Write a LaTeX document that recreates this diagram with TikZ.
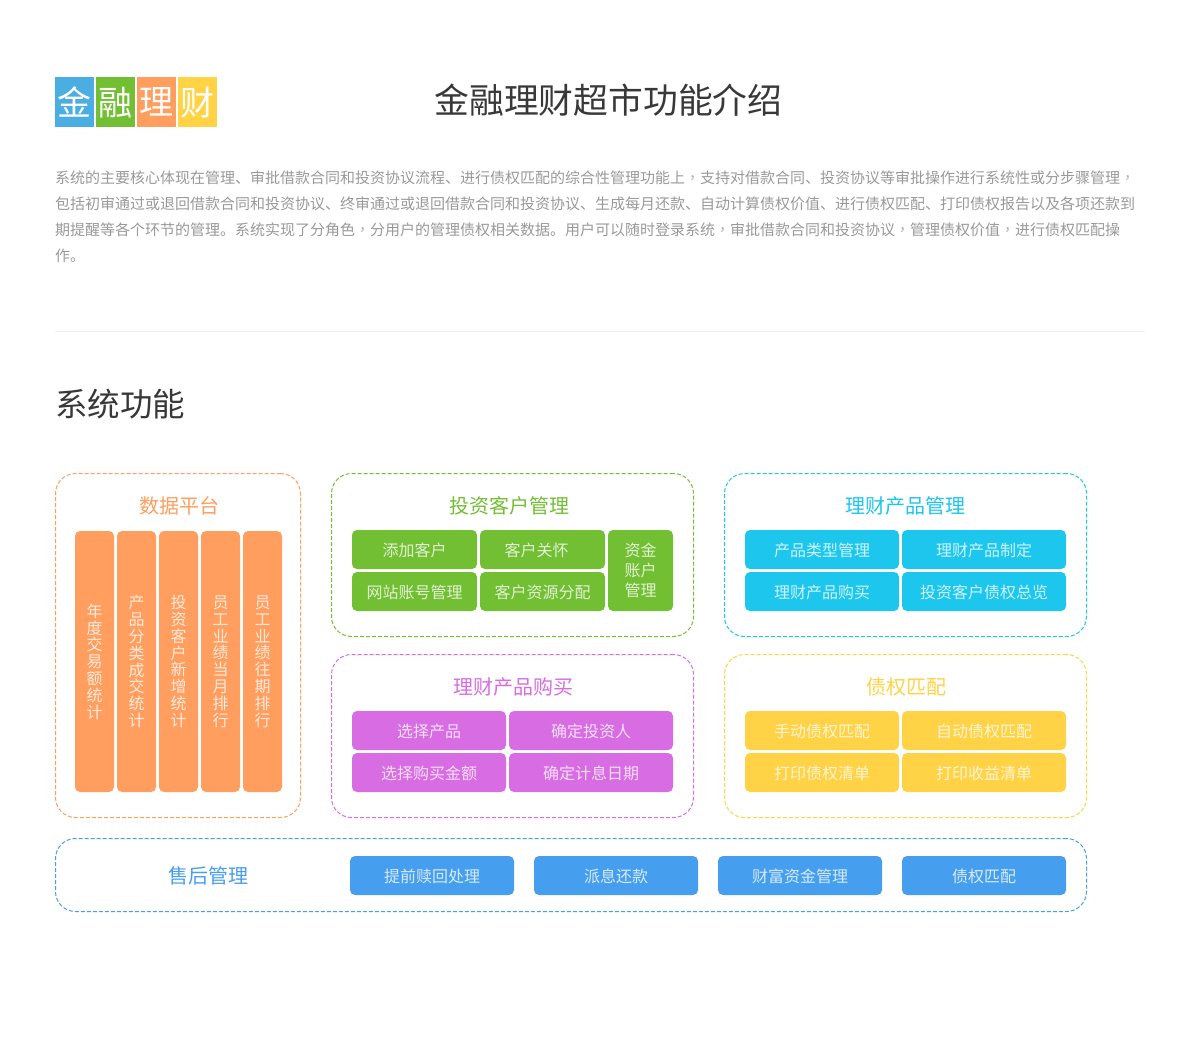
\documentclass[tikz,border=0pt]{standalone}
\usepackage{fontspec}
\setmainfont{Noto Sans CJK SC}
\newfontfamily\tcfont{Noto Sans CJK TC}
\newcommand{\cma}{{\tcfont\color{black!30}，}}
\definecolor{bluecol}{HTML}{4AAEE3}
\definecolor{greencol}{HTML}{72BF34}
\definecolor{orangecol}{HTML}{FF9E5E}
\definecolor{yellowcol}{HTML}{FFD345}
\definecolor{purplecol}{HTML}{D86DE3}
\definecolor{cyancol}{HTML}{1DC6EC}
\definecolor{servcol}{HTML}{469FEE}
\tikzset{
	logobox/.style={anchor=north west, inner sep=0pt, minimum width=39pt, minimum height=50pt, text=white, font=\fontsize{34}{34}\selectfont},
	bodyline/.style={anchor=west, inner sep=0pt, text=black!40, font=\fontsize{15}{15}\selectfont},
	panel/.style={anchor=north west, inner sep=0pt, outer sep=0pt, draw=#1, fill=white, line width=1pt, rounded corners=20pt, dash pattern=on 4pt off 2pt},
	paneltitle/.style={inner sep=0pt, text=#1, font=\fontsize{20}{20}\selectfont},
	btn/.style={anchor=north west, inner sep=0pt, outer sep=0pt, fill=#1, text=white!78!#1, rounded corners=5pt, align=center, font=\fontsize{16}{20}\selectfont},
	oneline/.style={text height=14pt, text depth=0.5pt},
	barbox/.style={btn=orangecol, minimum width=39pt, minimum height=261pt, font=\fontsize{16}{16.8}\selectfont},
}
\begin{document}
\begin{tikzpicture}[x=1pt,y=-1pt]
	\useasboundingbox (0,0) rectangle (1199,1045);
	% logo
	\foreach \x/\col/\ltext/\lname in {55/bluecol/金/jin, 96/greencol/融/rong, 137/orangecol/理/li, 178/yellowcol/财/cai}
	\node[logobox, fill=\col] (logo\lname) at (\x,77) {\ltext};
	\node[inner sep=0pt, text=black!78, font=\fontsize{34.8}{35}\selectfont] (title) at (608.5,100) {金融理财超市功能介绍};
	% intro text
	\node[bodyline] (line1) at (55,178) {系统的主要核心体现在管理、审批借款合同和投资协议流程、进行债权匹配的综合性管理功能上\cma 支持对借款合同、投资协议等审批操作进行系统性或分步骤管理\cma};
	\node[bodyline] (line2) at (55,204) {包括初审通过或退回借款合同和投资协议、终审通过或退回借款合同和投资协议、生成每月还款、自动计算债权价值、进行债权匹配、打印债权报告以及各项还款到};
	\node[bodyline] (line3) at (55,230) {期提醒等各个环节的管理。系统实现了分角色\cma 分用户的管理债权相关数据。用户可以随时登录系统\cma 审批借款合同和投资协议\cma 管理债权价值\cma 进行债权匹配操};
	\node[bodyline] (line4) at (55,256) {作。};
	\coordinate (ruleL) at (55,331);
	\coordinate (ruleR) at (1145,331);
	\draw[black!6, line width=1pt] (ruleL) -- (ruleR);
	\node[anchor=west, inner sep=0pt, text=black!78, font=\fontsize{32.5}{32}\selectfont] (sectitle) at (55,404) {系统功能};
	% panels
	\node[panel=orangecol, minimum width=245pt, minimum height=344pt] (pdata) at (55.5,473.5) {};
	\node[panel=greencol, minimum width=362pt, minimum height=163pt] (pclient) at (331.5,473.5) {};
	\node[panel=cyancol, minimum width=362pt, minimum height=163pt] (pprod) at (724.5,473.5) {};
	\node[panel=purplecol, minimum width=362pt, minimum height=163pt] (pbuy) at (331.5,654.5) {};
	\node[panel=yellowcol, minimum width=362pt, minimum height=163pt] (pdebt) at (724.5,654.5) {};
	\node[panel=servcol, minimum width=1031pt, minimum height=73pt] (pserv) at (55.5,838.5) {};
	\node[paneltitle=orangecol] (tdata) at (179,506) {数据平台};
	\node[paneltitle=greencol] (tclient) at (509,506) {投资客户管理};
	\node[paneltitle=cyancol] (tprod) at (905,506) {理财产品管理};
	\node[paneltitle=purplecol] (tbuy) at (513,687) {理财产品购买};
	\node[paneltitle=yellowcol] (tdebt) at (906,687) {债权匹配};
	\node[paneltitle=servcol] (tserv) at (208,876) {售后管理};
	% data bars
	\foreach \x/\bname/\btext in {
		75/a/{年\\度\\交\\易\\额\\统\\计},
		117/b/{产\\品\\分\\类\\成\\交\\统\\计},
		159/c/{投\\资\\客\\户\\新\\增\\统\\计},
		201/d/{员\\工\\业\\绩\\当\\月\\排\\行},
		243/e/{员\\工\\业\\绩\\往\\期\\排\\行}}
	\node[barbox] (bar\bname) at (\x,531) {\btext};
	% client buttons
	\node[btn=greencol, oneline, minimum width=125pt, minimum height=39pt] (addclient) at (352,530) {添加客户};
	\node[btn=greencol, oneline, minimum width=125pt, minimum height=39pt] (care) at (480,530) {客户关怀\hspace{12pt}};
	\node[btn=greencol, oneline, minimum width=125pt, minimum height=39pt] (account) at (352,572) {网站账号管理};
	\node[btn=greencol, oneline, minimum width=125pt, minimum height=39pt] (assign) at (480,572) {客户资源分配};
	\node[btn=greencol, minimum width=65pt, minimum height=81pt] (funds) at (608,530) {资金\\账户\\管理};
	% buy and product buttons
	\foreach \x/\y/\w/\col/\bname/\btext in {
		352/711/154/purplecol/pick/选择产品,
		509/711/164/purplecol/investor/确定投资人,
		352/753/154/purplecol/amount/选择购买金额,
		509/753/164/purplecol/date/确定计息日期,
		745/530/154/cyancol/ptype/产品类型管理,
		902/530/164/cyancol/pmake/理财产品制定,
		745/572/154/cyancol/pbuybtn/理财产品购买,
		902/572/164/cyancol/ptotal/投资客户债权总览,
		745/711/154/yellowcol/manual/手动债权匹配,
		902/711/164/yellowcol/auto/自动债权匹配,
		745/753/154/yellowcol/printd/打印债权清单,
		902/753/164/yellowcol/printi/打印收益清单}
	\node[btn=\col, oneline, minimum width=\w pt, minimum height=39pt] (\bname) at (\x,\y) {\btext};
	% service buttons
	\foreach \x/\bname/\btext in {350/redeem/提前赎回处理, 534/repay/派息还款, 718/wealth/财富资金管理, 902/match/债权匹配}
	\node[btn=servcol, oneline, minimum width=164pt, minimum height=39pt] (\bname) at (\x,856) {\btext};
\end{tikzpicture}
\end{document}
